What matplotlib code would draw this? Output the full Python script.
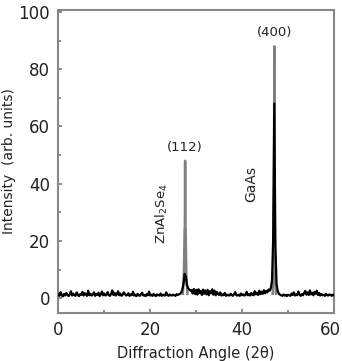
import numpy as np
import matplotlib
matplotlib.use("Agg")
import matplotlib.pyplot as plt
import matplotlib.transforms as mtransforms

# Black scan (step 0.25 deg starting at 0)
black_y = [
    1.2, 0.8, 2.1, 1.0, 0.6, 1.5, 0.9, 1.8, 1.1, 0.7, 1.3, 2.4, 0.9, 1.6, 1.0, 0.8, 2.0, 1.2, 0.7, 1.4,
    1.1, 2.2, 0.9, 1.7, 1.3, 0.8, 2.6, 1.0, 1.5, 0.9, 1.2, 2.0, 0.8, 1.4, 1.1, 1.9, 0.7, 1.3, 2.3, 1.0,
    1.6, 0.9, 1.2, 2.1, 1.0, 0.8, 1.5, 2.7, 1.1, 1.8, 0.9, 1.3, 2.4, 1.0, 1.6, 0.8, 1.2, 2.0, 1.4, 0.9,
    1.1, 1.7, 0.8, 1.3, 1.0, 2.2, 0.9, 1.2, 0.7, 1.5, 1.0, 0.8, 1.3, 1.9, 0.9, 1.1, 0.7, 1.4, 1.0, 2.3,
    0.9, 1.2, 0.8, 1.5, 1.0, 0.7, 1.3, 1.1, 0.9, 1.6, 0.8, 1.2, 1.0, 0.9, 2.0, 1.1, 0.8, 1.3, 1.0, 0.9,
    1.2, 1.0, 0.8, 1.4, 1.1, 1.3, 1.5, 2.0, 3.0, 5.0,
    8.5, 7.5, 4.5, 3.5, 3.0, 2.6,
    2.8, 1.6, 3.2, 1.4, 2.9, 1.2, 3.1, 1.8, 2.5, 1.1, 3.0, 1.5, 2.7, 1.3, 2.9, 1.0, 2.4, 1.7, 3.1, 1.2,
    2.6, 1.0, 2.2, 1.4,
    1.1, 2.0, 0.9, 1.3, 1.0, 1.8, 0.8, 1.2, 1.0, 0.9, 1.5, 1.1, 0.8, 1.3, 2.1, 1.0, 0.9, 1.2, 0.8, 1.6,
    1.0, 1.3, 0.9, 1.1, 2.2, 1.0, 1.4, 0.9, 1.8, 1.2,
    1.0, 2.4, 1.3, 1.9, 1.1, 2.6, 1.4, 2.2, 1.5, 2.8, 1.7, 2.5, 2.0, 3.0, 2.6, 3.5,
    6.0, 20.0, 68.0, 18.0, 5.0, 2.5, 1.5, 1.2,
    1.0, 0.8, 1.3, 0.9, 1.1, 0.7, 1.2, 1.0, 0.8, 1.6, 1.1, 2.0, 0.9, 1.3, 1.0, 2.3, 1.2, 0.8, 1.4, 1.0,
    1.8, 2.5, 1.2, 2.0, 1.1, 2.7, 1.3, 1.9, 1.0, 2.2, 1.5, 2.6, 1.1, 1.8, 0.9, 1.4, 1.0, 1.2, 0.8, 1.5,
    1.0, 0.9, 1.3, 1.1, 0.8, 1.2, 1.0,
]
black_x = 0.25 * np.arange(len(black_y))

# Gray scan (peaks)
gray_x1 = [27.1, 27.35, 27.5, 27.55, 27.6, 27.65, 27.7, 27.85, 28.1]
gray_y1 = [1.5, 9.0, 24.0, 24.0, 48.0, 24.0, 24.0, 9.0, 1.5]
gray_x2 = [46.65, 46.85, 46.93, 46.97, 47.0, 47.03, 47.07, 47.15, 47.35]
gray_y2 = [1.5, 10.0, 36.0, 36.0, 88.0, 36.0, 36.0, 10.0, 1.5]

xticks = [0, 20, 40, 60]
yticks = [0, 20, 40, 60, 80, 100]

fig = plt.figure(figsize=(3.42, 3.61), dpi=100)
ax = fig.add_axes([58.3/342, 1-313/361, (334-58.3)/342, (313-10)/361])

ax.plot(gray_x1, gray_y1, color='#808080', lw=1.8, zorder=2)
ax.plot(gray_x2, gray_y2, color='#808080', lw=1.8, zorder=2)
ax.plot(black_x, black_y, color='black', lw=1.6, zorder=3)

ax.set_xlim(0, 60)
ax.set_ylim(-5.2, 100.7)
ax.set_xticks(xticks)
ax.set_yticks(yticks)
ax.set_xticks([10, 30, 50], minor=True)
ax.set_yticks([10, 30, 50, 70, 90], minor=True)
ax.tick_params(which='both', direction='in', color='#777777', labelsize=12, labelcolor='#222222')
ax.tick_params(which='major', length=3, width=1.2, pad=6)
ax.tick_params(which='minor', length=2, width=1.2)
for s in ax.spines.values():
    s.set_color('#888888')
    s.set_linewidth(1.5)

# nudge the last x tick label inward so it stays inside the figure
last = ax.get_xticklabels()[-1]
last.set_transform(last.get_transform() + mtransforms.ScaledTranslation(-4/100, 0, fig.dpi_scale_trans))

ax.set_xlabel('Diffraction Angle (2θ)', fontsize=10.5, color='#222222', labelpad=5)
ax.set_ylabel('Intensity  (arb. units)', fontsize=10, color='#222222', labelpad=2)

ax.text(27.6, 50.5, '(112)', ha='center', va='bottom', fontsize=9.5, color='#222222')
ax.text(47.0, 90.5, '(400)', ha='center', va='bottom', fontsize=9.5, color='#222222')
ax.text(22.6, 29.4, r'ZnAl$_2$Se$_4$', rotation=90, ha='center', va='center', fontsize=9.5, color='#222222')
ax.text(42.0, 40, 'GaAs', rotation=90, ha='center', va='center', fontsize=10, color='#222222')

fig.savefig('out.png', dpi=100)
